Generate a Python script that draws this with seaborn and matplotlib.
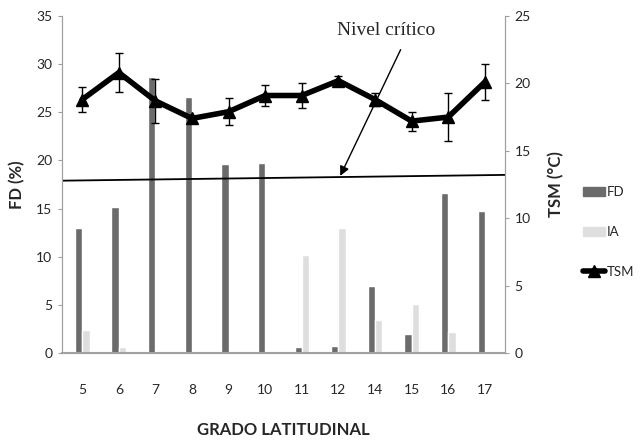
import matplotlib
matplotlib.use("Agg")
import matplotlib.pyplot as plt
import matplotlib.patches as mpatches
from matplotlib.lines import Line2D
import seaborn as sns
import pandas as pd

# data
grados = ["5", "6", "7", "8", "9", "10", "11", "12", "14", "15", "16", "17"]
fd = [13.0, 15.2, 28.7, 26.6, 19.6, 19.7, 0.6, 0.7, 7.0, 2.0, 16.6, 14.8]
ia = [2.4, 0.6, 0.0, 0.0, 0.0, 0.0, 10.2, 13.0, 3.4, 5.1, 2.2, 0.0]
tsm = [18.8, 20.8, 18.7, 17.4, 17.9, 19.1, 19.1, 20.2, 18.8, 17.2, 17.5, 20.1]
tsm_err = [0.9, 1.45, 1.65, 0.2, 1.0, 0.75, 0.9, 0.35, 0.5, 0.7, 1.8, 1.35]
nivel_critico = [17.9, 18.5]

sns.set_style("white")
plt.rcParams["font.family"] = ["Lato", "DejaVu Sans"]

df = pd.DataFrame({"grado": grados * 2,
                   "valor": fd + ia,
                   "serie": ["FD"] * len(fd) + ["IA"] * len(ia)})

fig = plt.figure(figsize=(6.4, 4.42), dpi=100)
ax = fig.add_axes([0.097, 0.201, 0.692, 0.763])

sns.barplot(data=df, x="grado", y="valor", hue="serie", order=grados,
            palette={"FD": "#6b6b6b", "IA": "#dedede"}, width=0.4,
            saturation=1, ax=ax, legend=False)
ax.set_ylim(0, 35)
ax.set_xlim(-0.55, len(grados) - 0.45)
ax.set_yticks(range(0, 36, 5))
ax.set_xlabel("GRADO LATITUDINAL", fontsize=12, fontweight="bold", labelpad=19)
ax.set_ylabel("FD (%)", fontsize=12, fontweight="bold", labelpad=8)

# critical level line
ax.plot([-0.55, len(grados) - 0.45], nivel_critico, color="black", lw=1.3)

ax2 = ax.twinx()
ax2.errorbar(range(len(grados)), tsm, yerr=tsm_err, color="black", lw=4,
             marker="^", markersize=9, ecolor="black", elinewidth=1,
             capsize=3, capthick=1)
ax2.set_ylim(0, 25)
ax2.set_yticks(range(0, 26, 5))
ax2.set_ylabel("TSM (°C)", fontsize=12, fontweight="bold", labelpad=12)

for a in (ax, ax2):
    for s in a.spines.values():
        s.set_color("#a0a0a0")
    a.spines["top"].set_visible(False)
    a.tick_params(axis="y", labelsize=10, length=3, color="#a0a0a0", pad=4)
ax.spines["bottom"].set_linewidth(1.5)
ax.tick_params(axis="x", labelsize=10, length=0, pad=22)

ax.text(8.3, 33.5, "Nivel crítico", fontsize=14, family="Liberation Serif",
        ha="center", va="center")
ax.annotate("", xy=(7.05, 18.4), xytext=(8.7, 31.5),
            arrowprops=dict(arrowstyle="-|>", color="black", lw=1,
                            shrinkA=0, shrinkB=0, mutation_scale=14))

handles = [mpatches.Patch(color="#6b6b6b"), mpatches.Patch(color="#dedede"),
           Line2D([], [], color="black", lw=4, marker="^", markersize=9)]
fig.legend(handles, ["FD", "IA", "TSM"], loc="center left",
           bbox_to_anchor=(0.893, 0.475), frameon=False, fontsize=9.5,
           labelspacing=2.1, handlelength=1.6, handletextpad=0.15)

fig.savefig("out.png", dpi=100)
